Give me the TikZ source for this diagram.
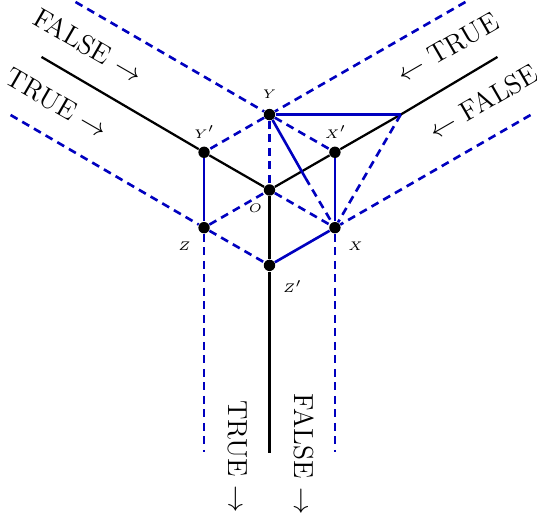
\documentclass[tikz,border=0pt]{standalone}
\usepackage{amsmath,amssymb}
\usepackage{tikz}
\definecolor{linkblue}{rgb}{0,0,0.75}
\tikzset{
  dot/.style={circle,fill=black,inner sep=0pt,minimum size=0.16cm},
  axis/.style={line width=0.9pt,black},
  solidlink/.style={line width=1.05pt,linkblue},
  dashlink/.style={line width=1.05pt,linkblue,dash pattern=on 3.2pt off 2.2pt},
  lab/.style={font=\tiny},
  side/.style={font=\fontsize{11}{13}\selectfont}
}

\begin{document}
\begin{tikzpicture}
    \useasboundingbox (-3.789,2.671) rectangle (3.761,-4.611);
    \node[dot] (o) at (0,0) {};
    \node[dot] (y) at (0,1.06) {};
    \node[dot] (yp) at (-0.92,0.53) {};
    \node[dot] (xp) at (0.92,0.53) {};
    \node[dot] (z) at (-0.92,-0.53) {};
    \node[dot] (x) at (0.92,-0.53) {};
    \node[dot] (zp) at (0,-1.06) {};
    \coordinate (w) at (1.845,1.06);
    \coordinate (brk) at (0.506,0.169);
    \coordinate (a_left) at (-3.205,1.87);
    \coordinate (a_right) at (3.205,1.87);
    \coordinate (a_down) at (0,-3.70);
    \coordinate (d_tl) at (-2.727,2.643);
    \coordinate (d_tr) at (2.755,2.643);
    \coordinate (d_l) at (-3.64,1.054);
    \coordinate (d_r) at (3.67,1.054);
    \coordinate (d_zd) at (-0.92,-3.68);
    \coordinate (d_xd) at (0.92,-3.68);
    \node[lab] (l_y) at (0,1.34) {$Y$};
    \node[lab] (l_yp) at (-0.915,0.815) {$Y'$};
    \node[lab] (l_xp) at (0.93,0.815) {$X'$};
    \node[lab] (l_o) at (-0.197,-0.253) {$O$};
    \node[lab] (l_z) at (-1.195,-0.787) {$Z$};
    \node[lab] (l_x) at (1.21,-0.787) {$X$};
    \node[lab] (l_zp) at (0.323,-1.364) {$Z'$};
    \node[side,rotate=-30] (t_false1) at (-2.545,2.03) {FALSE $\rightarrow$};
    \node[side,rotate=-30] (t_true1) at (-2.99,1.22) {TRUE $\rightarrow$};
    \node[side,rotate=30] (t_true2) at (2.505,2.0) {$\leftarrow$ TRUE};
    \node[side,rotate=30] (t_false2) at (3.005,1.24) {$\leftarrow$ FALSE};
    \node[side,rotate=-90] (t_true3) at (-0.445,-3.75) {TRUE $\rightarrow$};
    \node[side,rotate=-90] (t_false3) at (0.48,-3.72) {FALSE $\rightarrow$};
    \draw[axis] (a_left) -- (yp);
    \draw[axis] (yp) -- (o);
    \draw[axis] (a_right) -- (w);
    \draw[axis] (w) -- (xp);
    \draw[axis] (xp) -- (o);
    \draw[axis] (o) -- (zp);
    \draw[axis] (zp) -- (a_down);
    \draw[dashlink] (d_tl) -- (y);
    \draw[dashlink] (y) -- (xp);
    \draw[dashlink] (d_tr) -- (y);
    \draw[dashlink] (y) -- (yp);
    \draw[dashlink] (y) -- (o);
    \draw[dashlink] (d_l) -- (z);
    \draw[dashlink] (z) -- (zp);
    \draw[dashlink] (d_r) -- (x);
    \draw[dashlink] (z) -- (o);
    \draw[dashlink] (o) -- (x);
    \draw[dashlink] (w) -- (x);
    \draw[dashlink] (brk) -- (x);
    \draw[dashlink] (z) -- (d_zd);
    \draw[dashlink] (x) -- (d_xd);
    \draw[solidlink] (y) -- (w);
    \draw[solidlink] (y) -- (brk);
    \draw[solidlink] (yp) -- (z);
    \draw[solidlink] (xp) -- (x);
    \draw[solidlink] (zp) -- (x);
  \end{tikzpicture}
\end{document}
